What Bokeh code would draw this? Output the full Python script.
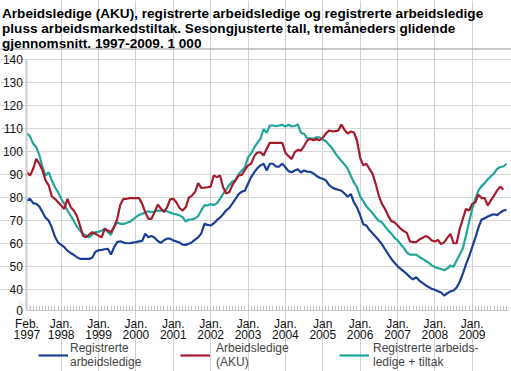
from bokeh.plotting import figure
from bokeh.models import (Range1d, FixedTicker, Span, Legend, LegendItem, Label,
                          PolyAnnotation)
from bokeh.embed import file_html
from bokeh.resources import INLINE

# ---------------- data ----------------
title_lines = [
    "Arbeidsledige (AKU), registrerte arbeidsledige og registrerte arbeidsledige",
    "pluss arbeidsmarkedstiltak. Sesongjusterte tall, tremåneders glidende",
    "gjennomsnitt. 1997-2009. 1 000",
]

# month index 0 = Feb. 1997
x_label_months = [0, 11, 23, 35, 47, 59, 71, 83, 95, 107, 119, 131, 143]
x_labels = ["Feb.\n1997", "Jan.\n1998", "Jan.\n1999", "Jan.\n2000", "Jan.\n2001",
            "Jan.\n2002", "Jan.\n2003", "Jan.\n2004", "Jan\n2005", "Jan.\n2006",
            "Jan.\n2007", "Jan.\n2008", "Jan.\n2009"]
y_ticks = [40, 50, 60, 70, 80, 90, 100, 110, 120, 130, 140]
y_break_value = 31      # position on the broken axis that stands for 0
y_break_label = "0"

series_names = ["Registrerte\narbeidsledige", "Arbeidsledige\n(AKU)",
                "Registrerte arbeids-\nledige + tiltak"]

registrerte = [
    78.8, 79.5, 77.6, 77.3, 76.1, 73.7, 71.2, 70.0, 67.0, 63.0, 60.5,
    59.5, 58.5, 57.0, 56.0, 55.2, 54.2, 53.4, 53.4, 53.4, 53.4, 54.0, 56.5,
    57.2, 57.3, 57.6, 57.8, 55.3, 58.5, 60.7, 61.1, 60.5, 60.2, 60.2, 60.5,
    60.7, 61.0, 61.2, 64.3, 62.8, 63.4, 62.6, 61.2, 60.4, 61.5, 62.2, 62.2,
    61.4, 61.0, 60.5, 59.6, 59.5, 60.0, 60.7, 61.8, 62.8, 64.5, 68.6, 68.2,
    67.9, 68.8, 70.2, 71.3, 72.8, 74.5, 75.6, 77.5, 79.5, 81.5, 82.6, 83.0,
    86.0, 88.9, 91.0, 92.8, 94.0, 94.7, 91.8, 94.7, 94.7, 93.5, 93.5, 94.7,
    93.2, 91.5, 91.0, 91.8, 92.3, 90.9, 91.8, 91.3, 91.2, 90.5, 89.4, 88.6,
    88.2, 87.5, 85.5, 84.4, 83.8, 83.4, 83.0, 81.8, 80.4, 81.6, 78.0, 75.8,
    72.4, 68.5, 67.9, 66.0, 64.5, 63.0, 61.5, 59.8, 57.6, 55.5, 53.5, 51.8,
    50.3, 49.1, 48.0, 46.9, 45.5, 44.5, 45.5, 44.0, 43.0, 42.0, 41.2, 40.4,
    40.0, 39.4, 38.8, 37.5, 38.5, 39.3, 39.7, 41.0, 43.5, 47.0, 51.0, 54.5,
    58.5, 62.5, 67.0, 70.5, 71.0, 71.8, 72.4, 72.8, 72.4, 73.5, 74.4, 74.7,
]

aku = [
    91.0, 89.6, 92.5, 96.8, 94.7, 91.8, 87.4, 85.3, 80.5, 79.5, 78.0,
    76.6, 75.1, 79.5, 76.0, 74.4, 72.2, 68.0, 63.5, 62.8, 64.0, 65.0, 64.3,
    63.5, 62.8, 66.5, 65.7, 65.0, 67.2, 70.8, 77.0, 79.5, 79.5, 79.8, 79.8,
    79.8, 79.8, 77.3, 73.7, 70.8, 70.8, 73.7, 77.0, 75.3, 73.7, 75.8, 79.3,
    79.5, 78.0, 75.5, 74.4, 75.8, 80.0, 80.9, 82.5, 86.3, 84.2, 84.3, 84.5,
    84.8, 89.6, 88.9, 89.6, 84.5, 81.8, 82.4, 85.5, 87.5, 89.6, 89.9, 92.0,
    94.0, 94.7, 98.0, 99.6, 99.7, 98.3, 101.2, 103.8, 103.8, 103.8, 103.8, 103.8,
    99.5, 98.0, 96.8, 99.7, 100.7, 100.4, 102.4, 104.8, 105.5, 104.9, 105.4, 104.9,
    106.0, 107.8, 109.1, 108.8, 108.9, 109.1, 111.7, 109.4, 107.8, 108.7, 108.3, 104.8,
    97.4, 94.0, 94.7, 92.5, 90.3, 86.0, 80.9, 77.3, 75.1, 72.2, 69.8, 69.3,
    68.0, 66.5, 65.5, 64.7, 61.0, 60.7, 60.7, 61.8, 62.5, 63.3, 62.8, 61.4,
    61.0, 61.6, 59.8, 60.6, 62.5, 64.3, 60.2, 60.2, 66.5, 70.8, 75.1, 74.4,
    77.3, 78.0, 81.3, 79.8, 79.8, 76.6, 78.8, 80.9, 83.1, 84.8, 83.4,
]

reg_tiltak = [
    108.0, 106.5, 103.4, 101.9, 98.3, 93.2, 89.6, 91.0, 87.4, 84.5, 82.4,
    79.5, 77.3, 74.4, 72.2, 70.0, 67.5, 65.7, 64.3, 63.5, 62.8, 64.0, 65.0,
    65.2, 65.7, 66.5, 65.0, 63.8, 67.5, 69.3, 68.6, 68.6, 69.0, 69.5, 70.5,
    71.5, 72.5, 73.0, 73.5, 74.1, 73.7, 74.0, 74.4, 74.4, 74.4, 74.1, 73.5,
    73.0, 72.8, 72.3, 71.5, 69.6, 70.5, 70.5, 71.0, 72.0, 74.5, 76.6, 76.6,
    77.2, 76.8, 77.5, 79.5, 81.6, 83.5, 85.5, 87.0, 87.7, 90.3, 91.8, 93.2,
    97.5, 99.2, 101.8, 103.8, 105.5, 109.8, 108.1, 111.3, 111.3, 111.0, 111.3, 111.6,
    110.9, 111.6, 110.9, 111.1, 111.8, 108.1, 107.7, 105.8, 105.7, 105.6, 106.2, 106.2,
    105.2, 104.5, 103.0, 101.5, 99.3, 97.5, 95.9, 94.4, 92.6, 89.5, 86.6, 84.5,
    80.6, 78.5, 76.2, 74.8, 73.3, 71.5, 70.0, 69.3, 67.5, 65.8, 64.5, 62.6,
    61.5, 59.8, 58.2, 56.2, 55.3, 55.3, 55.3, 54.3, 53.5, 52.6, 51.8, 50.6,
    49.9, 49.4, 49.0, 48.5, 49.2, 50.5, 50.0, 52.7, 55.3, 58.0, 63.5, 69.5,
    75.0, 79.5, 83.0, 85.0, 86.3, 88.0, 89.3, 90.5, 92.5, 93.3, 93.5, 94.7,
]

colors = ["#1c3f95", "#a31b2c", "#20a59b"]
FONT = "Liberation Sans"

# ---------------- layout constants (pixels / ranges) ----------------
X_START, X_END = -8.495, 155.62      # the frame covers the whole canvas
X_AXIS_END = 154.6
Y_START, Y_END = 4.54, 165.56
SEPARATOR_Y = 144.5

p = figure(width=511, height=371, output_backend="svg", toolbar_location=None,
           title=None, x_range=Range1d(X_START, X_END), y_range=Range1d(Y_START, Y_END),
           min_border=0, min_border_left=0, min_border_right=0,
           min_border_top=0, min_border_bottom=0)
p.outline_line_color = None

r3 = p.line(list(range(len(reg_tiltak))), reg_tiltak, line_color=colors[2], line_width=2.2)
r2 = p.line(list(range(len(aku))), aku, line_color=colors[1], line_width=2.2)
r1 = p.line(list(range(len(registrerte))), registrerte, line_color=colors[0], line_width=2.2)

# grids
p.ygrid.ticker = FixedTicker(ticks=y_ticks)
p.ygrid.bounds = (0, X_AXIS_END)
p.xgrid.ticker = FixedTicker(ticks=x_label_months[1:])
p.xgrid.bounds = (y_break_value, 140)
p.ygrid.grid_line_color = "#d6d6d6"
p.xgrid.grid_line_color = "#d0d0d0"

# x axis (pinned at the broken-axis zero)
xa = p.xaxis[0]
xa.fixed_location = y_break_value
xa.ticker = FixedTicker(ticks=x_label_months, minor_ticks=list(range(len(registrerte))))
xa.major_label_overrides = {m: t for m, t in zip(x_label_months, x_labels)}
xa.bounds = (0, X_AXIS_END)
xa.major_tick_in = 5
xa.major_tick_out = 0
xa.minor_tick_in = 5
xa.minor_tick_out = 0
xa.major_tick_line_color = "#c4c4c4"
xa.minor_tick_line_color = "#c4c4c4"
xa.axis_line_color = "#c8c8c8"
xa.major_label_text_font = FONT
xa.major_label_text_font_size = "12px"
xa.major_label_text_line_height = 0.85
xa.major_label_text_color = "#111111"
xa.major_label_standoff = 6

# y axis (pinned at first month)
ya = p.yaxis[0]
ya.fixed_location = 0
ya.ticker = FixedTicker(ticks=[y_break_value] + y_ticks)
ya.major_label_overrides = {y_break_value: y_break_label}
ya.bounds = (y_break_value, 140)
ya.axis_line_color = "#cccccc"
ya.axis_line_width = 2
ya.major_tick_in = 0
ya.major_tick_out = 0
ya.minor_tick_in = 0
ya.minor_tick_out = 0
ya.major_tick_line_color = None
ya.minor_tick_line_color = None
ya.major_label_text_font = FONT
ya.major_label_text_font_size = "12px"
ya.major_label_text_color = "#111111"
ya.major_label_standoff = 4

# axis break marks
for off in (0.0, -1.2):
    p.add_layout(PolyAnnotation(xs=[-3.03, 1.46], ys=[35.8 + off, 32.75 + off],
                                fill_alpha=0, line_color="#bdbdbd", line_width=1))

# separator line under the title
p.add_layout(Span(location=SEPARATOR_Y, dimension="width", line_color="#b5b5b5", line_width=1.5))

# title
title_baselines = [358.3, 343.0, 327.7]   # screen px from bottom of canvas
for t, yb in zip(title_lines, title_baselines):
    p.add_layout(Label(x=1.5, y=yb, x_units="screen", y_units="screen",
                       text=t, text_font=FONT, text_font_size="13.6px",
                       text_font_style="bold", text_color="#000000",
                       text_baseline="alphabetic"))

# legend: one box per series so each sits where the reference has it
renderers = [r1, r2, r3]
legend_x = [38, 180, 339]
legend_standoff = [2, 6, 4]
for name, r, lx, so in zip(series_names, renderers, legend_x, legend_standoff):
    lg = Legend(items=[LegendItem(label=name, renderers=[r])],
                location=(lx, 2), orientation="vertical",
                glyph_width=30, glyph_height=12, label_standoff=so,
                padding=0, margin=0, spacing=0,
                border_line_color=None, background_fill_alpha=0,
                label_text_font=FONT, label_text_font_size="12px",
                label_text_line_height=0.85)
    p.add_layout(lg)

open("out.html", "w").write(file_html(p, INLINE))
